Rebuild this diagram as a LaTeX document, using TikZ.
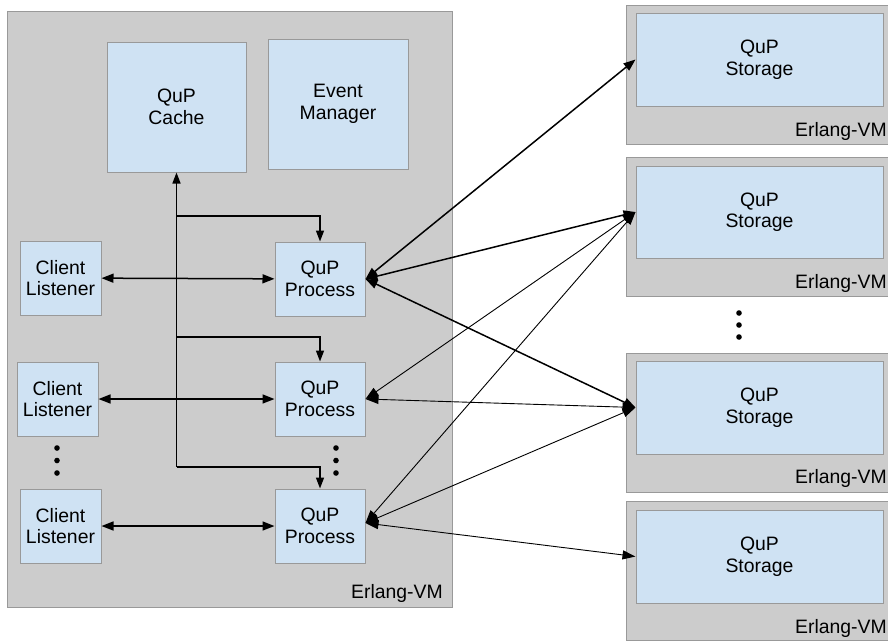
\documentclass[tikz,border=0pt]{standalone}
\usepackage{fontspec}
\setmainfont{Liberation Sans}
\usetikzlibrary{arrows.meta}
\definecolor{vmgray}{HTML}{CCCCCC}
\definecolor{edgegray}{HTML}{999999}
\definecolor{procblue}{HTML}{CFE2F3}
\begin{document}
\begin{tikzpicture}[x=1pt,y=-1pt,
  every node/.style={font=\fontsize{19.4}{21.5}\selectfont},
  vm/.style={draw=edgegray, fill=vmgray, line width=1pt, inner sep=0pt},
  proc/.style={draw=edgegray, fill=procblue, line width=1pt, align=center, inner sep=0pt},
  vmlabel/.style={anchor=base east, inner sep=0pt},
  bothway/.style={line width=1.5pt, {Triangle[length=12pt,width=9pt]}-{Triangle[length=12pt,width=9pt]}},
  thinway/.style={line width=0.9pt, {Triangle[length=13pt,width=9pt]}-{Triangle[length=13pt,width=9pt]}},
  feed/.style={line width=1.5pt, -{Triangle[length=11pt,width=8pt]}},
  dot/.style={fill=black}
]
\useasboundingbox (0,0) rectangle (888,641);
\clip (0,0) rectangle (888,641);

% main Erlang VM with its processes
\node[vm, minimum width=445pt, minimum height=596pt] (vm0) at (229.5,309) {};
\node[vmlabel] (vm0label) at (443,598) {Erlang-VM};

\node[proc, minimum width=139pt, minimum height=130pt] (cache) at (176.5,107) {QuP\\Cache};
\node[proc, minimum width=140pt, minimum height=130pt] (events) at (338,104) {Event\\Manager};

\node[proc, minimum width=81pt, minimum height=74pt] (c1) at (60.5,278) {Client\\Listener};
\node[proc, minimum width=81pt, minimum height=74pt] (c2) at (57.5,399) {Client\\Listener};
\node[proc, minimum width=81pt, minimum height=74pt] (c3) at (60.5,526) {Client\\Listener};

\node[proc, minimum width=90pt, minimum height=74pt] (p1) at (320,279) {QuP\\Process};
\node[proc, minimum width=90pt, minimum height=74pt] (p2) at (320,399) {QuP\\Process};
\node[proc, minimum width=90pt, minimum height=74pt] (p3) at (320,526) {QuP\\Process};

% ellipsis dots inside the main VM
\fill[dot] (57,448) circle (2.8pt) (57,460.5) circle (2.8pt) (57,473) circle (2.8pt);
\fill[dot] (336,448) circle (2.8pt) (336,460.5) circle (2.8pt) (336,473) circle (2.8pt);

% storage VMs
\node[vm, minimum width=274pt, minimum height=139pt] (vm1) at (763,74.5) {};
\node[vm, minimum width=274pt, minimum height=139pt] (vm2) at (763,226.5) {};
\node[vm, minimum width=274pt, minimum height=139pt] (vm3) at (763,422.5) {};
\node[vm, minimum width=274pt, minimum height=139pt] (vm4) at (763,571) {};

\node[proc, minimum width=247pt, minimum height=93pt] (s1) at (759.5,59.5) {QuP\\Storage};
\node[proc, minimum width=247pt, minimum height=92pt] (s2) at (759.5,212) {QuP\\Storage};
\node[proc, minimum width=247pt, minimum height=93pt] (s3) at (759.5,407.5) {QuP\\Storage};
\node[proc, minimum width=247pt, minimum height=93pt] (s4) at (759.5,556.5) {QuP\\Storage};

\node[vmlabel] (vm1label) at (887,136) {Erlang-VM};
\node[vmlabel] (vm2label) at (887,288) {Erlang-VM};
\node[vmlabel] (vm3label) at (887,483.5) {Erlang-VM};
\node[vmlabel] (vm4label) at (887,633) {Erlang-VM};

\fill[dot] (739,313) circle (2.8pt) (739,325) circle (2.8pt) (739,337) circle (2.8pt);

% cache distribution tree
\coordinate (t1) at (176.5,216);
\coordinate (t2) at (176.5,337);
\coordinate (t3) at (176.5,467);
\draw[feed] (t3) -- (cache.south);
\draw[feed] (t3) -| (p3.north);
\draw[feed] (t2) -| (p2.north);
\draw[feed] (t1) -| (p1.north);

% client listeners to processes
\draw[bothway] (c1) -- (p1);
\draw[bothway] (c2) -- (p2);
\draw[bothway] (c3) -- (p3);

% processes to storages
\draw[bothway] (p1.east) -- (s1.west);
\draw[bothway] (p1.east) -- (s2.west);
\draw[bothway] (p1.east) -- (s3.west);
\draw[thinway] (p2.east) -- (s2.west);
\draw[thinway] (p2.east) -- (s3.west);
\draw[thinway] ([yshift=3pt]p3.east) -- (s2.west);
\draw[thinway] ([yshift=3pt]p3.east) -- (s3.west);
\draw[thinway] ([yshift=3pt]p3.east) -- (s4.west);
\end{tikzpicture}
\end{document}
